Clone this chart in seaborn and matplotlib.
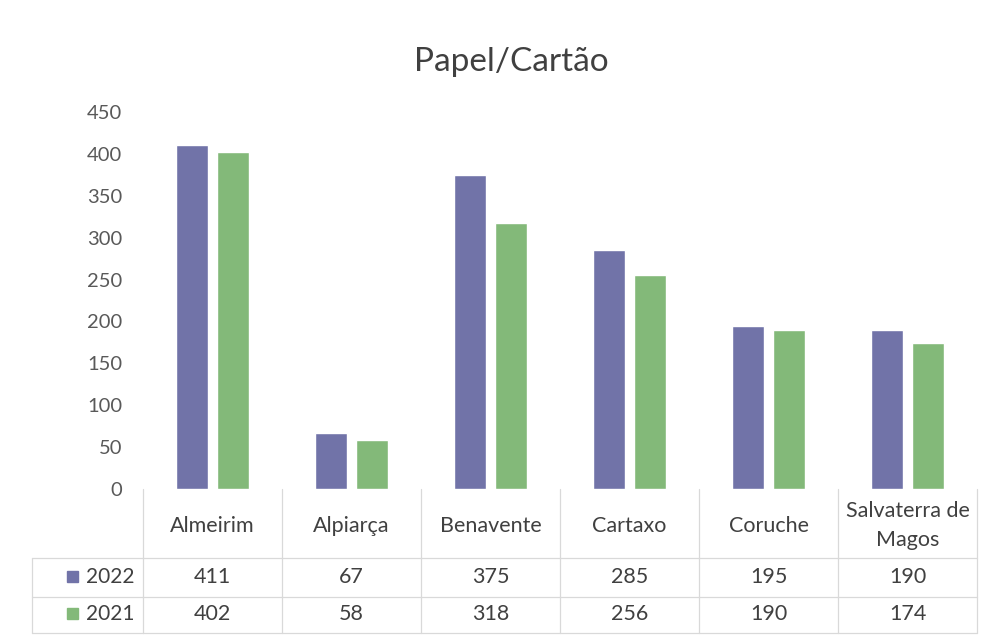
import pandas as pd
import matplotlib.pyplot as plt
import seaborn as sns
from matplotlib.patches import Rectangle

# dados
municipios = ['Almeirim', 'Alpiarça', 'Benavente', 'Cartaxo', 'Coruche', 'Salvaterra de\nMagos']
anos = ['2022', '2021']
v2022 = [411, 67, 375, 285, 195, 190]
v2021 = [402, 58, 318, 256, 190, 174]
cores = ['#7173A8', '#83B979']

df = pd.DataFrame({
    'Municipio': municipios * 2,
    'Ano': [anos[0]] * len(municipios) + [anos[1]] * len(municipios),
    'Valor': v2022 + v2021,
})

sns.set_theme(style='white')
plt.rcParams['font.family'] = ['Lato', 'DejaVu Sans']
txt = '#404040'

fig = plt.figure(figsize=(9.9, 6.41), dpi=100)
ax = fig.add_axes([143 / 990, 152 / 641, 834 / 990, 377 / 641])

sns.barplot(data=df, x='Municipio', y='Valor', hue='Ano', hue_order=anos,
            palette=cores, width=0.59, gap=0.2, saturation=1, ax=ax, legend=False)

ax.set_ylim(0, 450)
ax.set_xlim(-0.5, len(municipios) - 0.5)
ax.set_yticks(range(0, 451, 50))
ax.tick_params(axis='y', length=0, pad=15, labelsize=14.5, labelcolor='#595959')
ax.set_xticks([])
ax.set_xlabel('')
ax.set_ylabel('')
sns.despine(ax=ax, left=True, bottom=True)

fig.text(511 / 990, 1 - 62 / 641, 'Papel/Cartão', ha='center', va='center',
         fontsize=24, color=txt)

# tabela de dados por baixo do gráfico
tr = ax.get_xaxis_transform()
linha = dict(color='#D9D9D9', lw=0.9, transform=tr, clip_on=False)
for i in range(len(municipios) + 1):
    ax.plot([i - 0.5, i - 0.5], [0, -0.382], **linha)
for yy in [-0.183, -0.286, -0.382]:
    ax.plot([-0.5, len(municipios) - 0.5], [yy, yy], **linha)
for yy in [-0.183, -0.286, -0.382]:
    fig.add_artist(plt.Line2D([32 / 990, 143 / 990], [1 - (489 - yy * 377) / 641] * 2,
                              color='#D9D9D9', lw=0.9))
fig.add_artist(plt.Line2D([32 / 990, 32 / 990], [1 - 558 / 641, 1 - 633 / 641],
                          color='#D9D9D9', lw=0.9))

for i, nome in enumerate(municipios):
    ax.text(i, -0.097, nome, transform=tr, ha='center', va='center',
            fontsize=15.5, color=txt, linespacing=1.55)
    ax.text(i, -0.233, str(v2022[i]), transform=tr, ha='center', va='center',
            fontsize=15.5, color=txt)
    ax.text(i, -0.332, str(v2021[i]), transform=tr, ha='center', va='center',
            fontsize=15.5, color=txt)

for ano, cor, ypx in zip(anos, cores, [577, 614]):
    fig.add_artist(Rectangle((67 / 990, 1 - (ypx + 5) / 641), 11 / 990, 11 / 641,
                             color=cor, transform=fig.transFigure))
    fig.text(86 / 990, 1 - ypx / 641, ano, ha='left', va='center', fontsize=15, color=txt)

plt.savefig('out.png', dpi=100)
